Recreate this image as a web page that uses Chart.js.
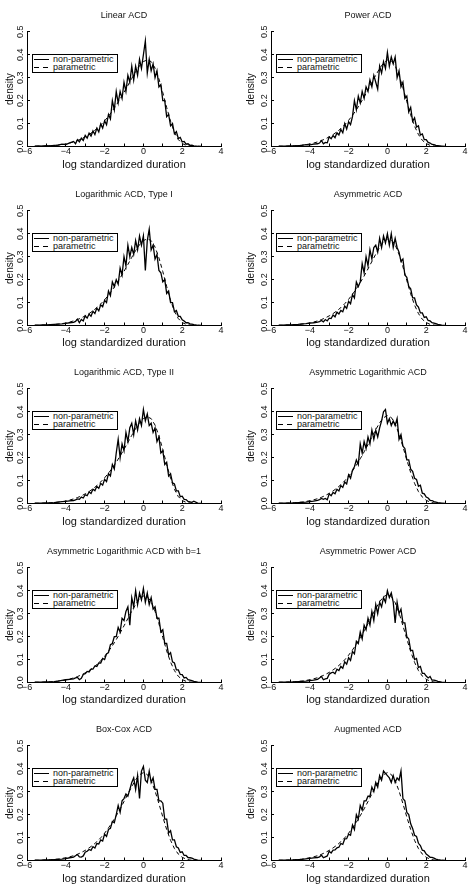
<!DOCTYPE html>
<html>
<head>
<meta charset="utf-8">
<script src="https://cdn.jsdelivr.net/npm/chart.js@4.4.1/dist/chart.umd.min.js"></script>
<style>
  html, body { margin: 0; padding: 0; background: #fff; }
  #grid { position: relative; width: 473px; height: 893px; overflow: hidden; }
  .panel { position: absolute; }
  .panel canvas { display: block; }
  .legend {
    position: absolute; box-sizing: border-box; width: 86px; height: 19px;
    border: 1px solid #000; background: #fff; padding: 0.5px 0 0 1px;
    font: 9px 'Liberation Sans', Arial, sans-serif; color: #111;
  }
  .legend .row { display: flex; align-items: center; height: 8px; line-height: 8px; white-space: nowrap; }
  .legend .sample { width: 15px; height: 1px; margin-right: 4px; background: #000; flex: none; }
  .legend .sample.dash { background: repeating-linear-gradient(90deg, #000 0 5px, transparent 5px 9px); }
</style>
</head>
<body>
<div id="grid"></div>
<script>
const FONT = "'Liberation Sans', Arial, sans-serif";

// x grid of the kernel (non-parametric) estimates
const xs = [
  -5.6, -5.4, -5.2, -5.0, -4.8, -4.6, -4.4, -4.2, -4.0, -3.8,
  -3.6, -3.5, -3.4, -3.3, -3.2, -3.1, -3.0, -2.9, -2.8, -2.7,
  -2.6, -2.5, -2.4, -2.3, -2.2, -2.1, -2.0, -1.9, -1.8, -1.7,
  -1.6, -1.5, -1.4, -1.3, -1.2, -1.1, -1.0, -0.9, -0.8, -0.7,
  -0.6, -0.5, -0.4, -0.3, -0.2, -0.1, 0.0, 0.1, 0.2, 0.3,
  0.4, 0.5, 0.6, 0.7, 0.8, 0.9, 1.0, 1.1, 1.2, 1.3,
  1.4, 1.5, 1.6, 1.7, 1.8, 1.9, 2.0, 2.1, 2.2, 2.3,
  2.4, 2.5, 2.6, 2.8, 3.0
];

// x grid of the parametric densities
const xp = [
  -5.6, -5.4, -5.2, -5.0, -4.8, -4.6, -4.4, -4.2, -4.0, -3.8,
  -3.6, -3.4, -3.2, -3.0, -2.8, -2.6, -2.4, -2.2, -2.0, -1.8,
  -1.6, -1.4, -1.2, -1.0, -0.8, -0.6, -0.4, -0.2, 0.0, 0.2,
  0.4, 0.6, 0.8, 1.0, 1.2, 1.4, 1.6, 1.8, 2.0, 2.2,
  2.4, 2.6, 2.8, 3.0
];

const parRight = [
  0.001, 0.001, 0.002, 0.002, 0.003, 0.004, 0.006, 0.008, 0.011, 0.015,
  0.02, 0.026, 0.033, 0.042, 0.052, 0.064, 0.078, 0.094, 0.112, 0.132,
  0.155, 0.18, 0.207, 0.236, 0.266, 0.297, 0.327, 0.352, 0.37, 0.378,
  0.37, 0.342, 0.295, 0.235, 0.17, 0.11, 0.062, 0.03, 0.013, 0.005,
  0.002, 0.001, 0, 0
];
const parMid = [
  0.001, 0.001, 0.002, 0.002, 0.003, 0.004, 0.006, 0.008, 0.011, 0.015,
  0.02, 0.026, 0.033, 0.042, 0.052, 0.064, 0.078, 0.095, 0.114, 0.136,
  0.16, 0.187, 0.216, 0.247, 0.279, 0.311, 0.34, 0.364, 0.377, 0.374,
  0.352, 0.31, 0.256, 0.196, 0.138, 0.089, 0.052, 0.027, 0.013, 0.005,
  0.002, 0.001, 0, 0
];
const parLeft = [
  0.001, 0.001, 0.002, 0.003, 0.003, 0.005, 0.006, 0.009, 0.012, 0.016,
  0.021, 0.027, 0.035, 0.044, 0.055, 0.067, 0.082, 0.099, 0.119, 0.142,
  0.167, 0.195, 0.225, 0.257, 0.29, 0.322, 0.352, 0.374, 0.383, 0.375,
  0.348, 0.303, 0.248, 0.19, 0.135, 0.088, 0.052, 0.028, 0.014, 0.006,
  0.002, 0.001, 0, 0
];

const npLinear = [
  0.002, 0.003, 0.002, 0.004, 0.003, 0.005, 0.006, 0.01, 0.008, 0.016,
  0.022, 0.012, 0.03, 0.02, 0.036, 0.026, 0.048, 0.036, 0.058, 0.045,
  0.068, 0.052, 0.08, 0.064, 0.098, 0.08, 0.112, 0.095, 0.14, 0.12,
  0.2, 0.16, 0.24, 0.19, 0.24, 0.21, 0.28, 0.24, 0.31, 0.28,
  0.35, 0.29, 0.35, 0.31, 0.38, 0.34, 0.4, 0.46, 0.32, 0.38,
  0.33, 0.36, 0.3, 0.33, 0.26, 0.27, 0.2, 0.2, 0.13, 0.14,
  0.09, 0.1, 0.055, 0.065, 0.035, 0.04, 0.02, 0.022, 0.01, 0.012,
  0.005, 0.006, 0.003, 0.001, 0
];
const npPower = [
  0.001, 0.002, 0.002, 0.003, 0.003, 0.004, 0.005, 0.008, 0.007, 0.01,
  0.012, 0.015, 0.026, 0.012, 0.018, 0.016, 0.042, 0.034, 0.048, 0.038,
  0.06, 0.05, 0.074, 0.06, 0.1, 0.076, 0.108, 0.095, 0.13, 0.2,
  0.16, 0.22, 0.19, 0.24, 0.21, 0.26, 0.24, 0.29, 0.26, 0.31,
  0.28, 0.25, 0.35, 0.32, 0.37, 0.34, 0.41, 0.35, 0.39, 0.36,
  0.39, 0.3, 0.33, 0.26, 0.28, 0.21, 0.22, 0.15, 0.17, 0.11,
  0.125, 0.085, 0.09, 0.05, 0.055, 0.03, 0.03, 0.018, 0.015, 0.009,
  0.008, 0.005, 0.004, 0.002, 0
];
const npLogI = [
  0.002, 0.002, 0.003, 0.003, 0.004, 0.005, 0.006, 0.007, 0.009, 0.012,
  0.014, 0.018, 0.028, 0.012, 0.026, 0.02, 0.042, 0.032, 0.05, 0.04,
  0.062, 0.052, 0.076, 0.064, 0.09, 0.082, 0.11, 0.1, 0.15, 0.13,
  0.19, 0.17, 0.2, 0.18, 0.25, 0.22, 0.3, 0.26, 0.35, 0.3,
  0.34, 0.31, 0.37, 0.33, 0.39, 0.35, 0.39, 0.24, 0.37, 0.42,
  0.33, 0.35, 0.29, 0.31, 0.24, 0.23, 0.19, 0.2, 0.14, 0.15,
  0.1, 0.1, 0.06, 0.065, 0.04, 0.04, 0.025, 0.02, 0.012, 0.012,
  0.007, 0.006, 0.004, 0.001, 0
];
const npAsym = [
  0.002, 0.002, 0.003, 0.003, 0.004, 0.005, 0.007, 0.008, 0.01, 0.012,
  0.015, 0.017, 0.022, 0.016, 0.026, 0.02, 0.032, 0.03, 0.046, 0.038,
  0.058, 0.05, 0.066, 0.06, 0.085, 0.075, 0.105, 0.095, 0.135, 0.12,
  0.19, 0.17, 0.19, 0.27, 0.23, 0.3, 0.26, 0.33, 0.29, 0.34,
  0.35, 0.32, 0.38, 0.34, 0.39, 0.36, 0.4, 0.35, 0.4, 0.34,
  0.38, 0.34, 0.32, 0.28, 0.29, 0.22, 0.21, 0.17, 0.16, 0.12,
  0.12, 0.09, 0.08, 0.055, 0.055, 0.035, 0.038, 0.022, 0.02, 0.012,
  0.01, 0.008, 0.005, 0.002, 0
];
const npLogII = [
  0.001, 0.002, 0.002, 0.003, 0.003, 0.004, 0.006, 0.008, 0.009, 0.011,
  0.013, 0.016, 0.02, 0.018, 0.028, 0.024, 0.038, 0.034, 0.05, 0.044,
  0.062, 0.056, 0.075, 0.066, 0.088, 0.08, 0.105, 0.095, 0.13, 0.12,
  0.17, 0.15, 0.22, 0.28, 0.2, 0.26, 0.23, 0.31, 0.27, 0.33,
  0.35, 0.3, 0.36, 0.32, 0.37, 0.34, 0.41, 0.36, 0.39, 0.34,
  0.35, 0.31, 0.33, 0.27, 0.29, 0.22, 0.23, 0.17, 0.18, 0.12,
  0.13, 0.09, 0.085, 0.055, 0.055, 0.03, 0.032, 0.018, 0.017, 0.009,
  0.007, 0.005, 0.01, 0.002, 0
];
const npAsymLog = [
  0.001, 0.001, 0.002, 0.002, 0.003, 0.004, 0.005, 0.006, 0.008, 0.01,
  0.014, 0.017, 0.022, 0.018, 0.022, 0.016, 0.042, 0.034, 0.048, 0.042,
  0.062, 0.055, 0.078, 0.07, 0.094, 0.085, 0.125, 0.11, 0.145, 0.16,
  0.19, 0.17, 0.26, 0.22, 0.27, 0.24, 0.29, 0.26, 0.32, 0.28,
  0.32, 0.29, 0.33, 0.36, 0.4, 0.41, 0.35, 0.37, 0.34, 0.36,
  0.34, 0.37, 0.28, 0.3, 0.25, 0.24, 0.19, 0.19, 0.15, 0.14,
  0.11, 0.105, 0.075, 0.08, 0.045, 0.042, 0.028, 0.024, 0.014, 0.013,
  0.008, 0.006, 0.004, 0.002, 0
];
const npAsymLogB1 = [
  0.001, 0.002, 0.002, 0.003, 0.003, 0.004, 0.006, 0.009, 0.012, 0.014,
  0.016, 0.02, 0.022, 0.012, 0.018, 0.035, 0.038, 0.048, 0.046, 0.058,
  0.058, 0.072, 0.07, 0.085, 0.085, 0.105, 0.1, 0.125, 0.13, 0.165,
  0.17, 0.2, 0.2, 0.24, 0.22, 0.28, 0.27, 0.31, 0.33, 0.25,
  0.37, 0.33, 0.4, 0.34, 0.39, 0.36, 0.41, 0.35, 0.39, 0.34,
  0.37, 0.32, 0.33, 0.28, 0.28, 0.22, 0.23, 0.17, 0.17, 0.12,
  0.13, 0.09, 0.085, 0.055, 0.055, 0.035, 0.034, 0.02, 0.022, 0.012,
  0.01, 0.008, 0.005, 0.002, 0
];
const npAsymPower = [
  0.001, 0.001, 0.002, 0.002, 0.003, 0.004, 0.005, 0.006, 0.008, 0.01,
  0.014, 0.02, 0.026, 0.012, 0.016, 0.018, 0.036, 0.042, 0.045, 0.038,
  0.058, 0.052, 0.07, 0.062, 0.09, 0.08, 0.108, 0.096, 0.135, 0.125,
  0.18, 0.17, 0.22, 0.19, 0.25, 0.23, 0.28, 0.25, 0.31, 0.27,
  0.34, 0.3, 0.35, 0.33, 0.37, 0.35, 0.4, 0.37, 0.39, 0.35,
  0.26, 0.35, 0.3, 0.32, 0.26, 0.26, 0.2, 0.19, 0.14, 0.14,
  0.1, 0.105, 0.065, 0.07, 0.04, 0.04, 0.028, 0.02, 0.026, 0.01,
  0.01, 0.008, 0.005, 0.002, 0
];
const npBoxCox = [
  0.001, 0.002, 0.002, 0.003, 0.003, 0.004, 0.005, 0.006, 0.008, 0.012,
  0.015, 0.021, 0.026, 0.016, 0.015, 0.02, 0.036, 0.04, 0.048, 0.044,
  0.06, 0.054, 0.074, 0.072, 0.09, 0.085, 0.115, 0.105, 0.135, 0.14,
  0.17, 0.165, 0.2, 0.24, 0.21, 0.26, 0.27, 0.29, 0.28, 0.31,
  0.34, 0.36, 0.31, 0.37, 0.27, 0.39, 0.41, 0.35, 0.34, 0.39,
  0.34, 0.36, 0.31, 0.31, 0.26, 0.26, 0.25, 0.18, 0.18, 0.12,
  0.13, 0.09, 0.09, 0.06, 0.055, 0.035, 0.038, 0.022, 0.022, 0.013,
  0.012, 0.01, 0.006, 0.002, 0
];
const npAugmented = [
  0.001, 0.001, 0.002, 0.002, 0.003, 0.004, 0.005, 0.007, 0.009, 0.011,
  0.013, 0.016, 0.023, 0.012, 0.016, 0.02, 0.04, 0.033, 0.045, 0.046,
  0.055, 0.058, 0.074, 0.07, 0.094, 0.095, 0.115, 0.11, 0.155, 0.135,
  0.2, 0.18, 0.24, 0.22, 0.26, 0.26, 0.28, 0.28, 0.32, 0.3,
  0.34, 0.32, 0.37, 0.35, 0.39, 0.38, 0.37, 0.36, 0.34, 0.37,
  0.34, 0.36, 0.35, 0.39, 0.27, 0.26, 0.21, 0.2, 0.16, 0.14,
  0.11, 0.105, 0.075, 0.065, 0.045, 0.042, 0.028, 0.022, 0.014, 0.014,
  0.01, 0.006, 0.004, 0.001, 0
];

const titles = [
  'Linear ACD', 'Power ACD',
  'Logarithmic ACD, Type I', 'Asymmetric ACD',
  'Logarithmic ACD, Type II', 'Asymmetric Logarithmic ACD',
  'Asymmetric Logarithmic ACD with b=1', 'Asymmetric Power ACD',
  'Box-Cox ACD', 'Augmented ACD'
];
const nonParametric = [
  npLinear, npPower, npLogI, npAsym, npLogII,
  npAsymLog, npAsymLogB1, npAsymPower, npBoxCox, npAugmented
];
const parametric = [
  parRight, parMid, parRight, parMid, parRight,
  parLeft, parMid, parLeft, parLeft, parLeft
];

const ROW_TOP = [0, 179, 357, 536, 714];
const ROW_H = [179, 178, 179, 178, 179];
const COL_X = [0, 236];
const COL_W = [236, 237];

function minusFmt(v) {
  return v < 0 ? '\u2212' + (-v) : String(v);
}

// rotated y tick labels (0.0 ... 0.5), placed from the y scale
const yTickLabels = {
  id: 'yTickLabels',
  afterDraw(chart) {
    const ctx = chart.ctx;
    const y = chart.scales.y;
    const left = chart.chartArea.left;
    ctx.save();
    ctx.font = '9px ' + FONT;
    ctx.fillStyle = '#111';
    ctx.textAlign = 'center';
    ctx.textBaseline = 'middle';
    y.ticks.forEach(t => {
      const py = y.getPixelForValue(t.value);
      ctx.save();
      ctx.translate(left - 6, py);
      ctx.rotate(-Math.PI / 2);
      ctx.fillText(t.value.toFixed(1), 0, 0);
      ctx.restore();
    });
    ctx.restore();
  }
};

function makePanel(i) {
  const col = i % 2, row = Math.floor(i / 2);
  const w = COL_W[col], h = ROW_H[row];
  const panel = document.createElement('div');
  panel.className = 'panel';
  panel.style.left = COL_X[col] + 'px';
  panel.style.top = ROW_TOP[row] + 'px';
  panel.style.width = w + 'px';
  panel.style.height = h + 'px';
  const canvas = document.createElement('canvas');
  canvas.width = w;
  canvas.height = h;
  panel.appendChild(canvas);
  document.getElementById('grid').appendChild(panel);

  const np = nonParametric[i], par = parametric[i];
  const chart = new Chart(canvas, {
    type: 'line',
    data: {
      datasets: [
        {
          label: 'non-parametric',
          data: xs.map((x, k) => ({ x, y: np[k] })),
          borderColor: '#000',
          borderWidth: 1.3,
          pointRadius: 0,
          tension: 0,
        },
        {
          label: 'parametric',
          data: xp.map((x, k) => ({ x, y: par[k] })),
          borderColor: '#000',
          borderWidth: 1,
          borderDash: [4, 3],
          pointRadius: 0,
          tension: 0,
        }
      ]
    },
    options: {
      responsive: false,
      animation: false,
      events: [],
      layout: { padding: { left: col ? 9 : 4, right: col ? 8 : 15, top: 0, bottom: 0 } },
      plugins: {
        legend: { display: false },
        tooltip: { enabled: false },
        title: {
          display: true,
          text: titles[i],
          fullSize: false,
          color: '#111',
          font: { family: FONT, size: 9, weight: 'normal' },
          padding: { top: 10, bottom: 11 },
        }
      },
      scales: {
        x: {
          type: 'linear',
          min: -6,
          max: 4,
          afterFit: s => { s.height = h - 146.5; },
          grid: { drawOnChartArea: false, tickLength: -3, color: '#000' },
          border: { color: '#000', width: 1 },
          ticks: {
            stepSize: 1,
            autoSkip: false,
            maxRotation: 0,
            padding: 3,
            color: '#111',
            font: { family: FONT, size: 9 },
            callback: v => (v % 2 === 0 ? minusFmt(v) : ''),
          },
          title: {
            display: true,
            text: 'log standardized duration',
            color: '#111',
            font: { family: FONT, size: 11 },
            padding: { top: 0, bottom: 7 },
          }
        },
        y: {
          min: 0,
          max: 0.5,
          afterFit: s => { s.width = col ? 26 : 23; },
          grid: { drawOnChartArea: false, tickLength: -3, color: '#000' },
          border: { color: '#000', width: 1 },
          ticks: { stepSize: 0.1, display: false },
          title: {
            display: true,
            text: 'density',
            color: '#111',
            font: { family: FONT, size: 10 },
            padding: 0,
          }
        }
      }
    },
    plugins: [yTickLabels]
  });

  const ca = chart.chartArea;
  const legend = document.createElement('div');
  legend.className = 'legend';
  legend.style.left = (ca.left + 5) + 'px';
  legend.style.top = (ca.top + 22) + 'px';
  legend.innerHTML =
    '<div class="row"><span class="sample"></span>non-parametric</div>' +
    '<div class="row"><span class="sample dash"></span>parametric</div>';
  panel.appendChild(legend);
}

for (let i = 0; i < titles.length; i++) makePanel(i);
</script>
</body>
</html>
